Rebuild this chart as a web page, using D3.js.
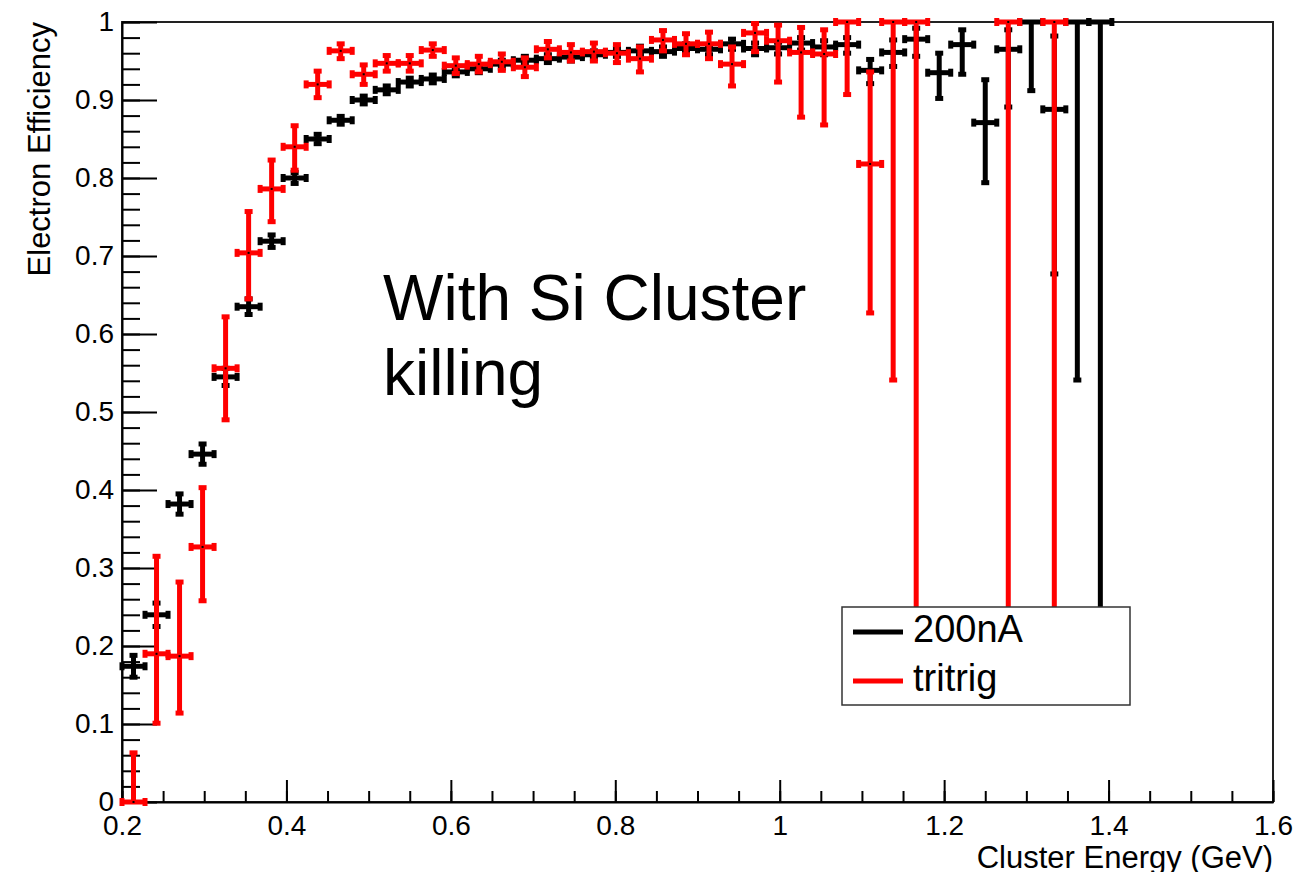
<!DOCTYPE html>
<html>
<head>
<meta charset="utf-8">
<script src="https://cdn.jsdelivr.net/npm/d3@7"></script>
<style>
  html, body { margin: 0; padding: 0; background: #fff; }
  svg { display: block; }
  text { font-family: "Liberation Sans", Arial, Helvetica, sans-serif; fill: #000; }
</style>
</head>
<body>
<svg id="chart" width="1315" height="872"></svg>
<script>
// ---------------- DATA ----------------
const binWidth = 0.028;
const binCenters = [0.214,0.242,0.270,0.298,0.326,0.354,0.382,0.410,0.438,0.466,
                    0.494,0.522,0.550,0.578,0.606,0.634,0.662,0.690,0.718,0.746,
                    0.774,0.802,0.830,0.858,0.886,0.914,0.942,0.970,0.998,1.026,
                    1.054,1.082,1.110,1.138,1.166,1.194,1.222,1.250,1.278,1.306,
                    1.334,1.362,1.390];

// 200nA (black)
const eff200nA = [0.174,0.240,0.382,0.446,0.545,0.635,0.719,0.800,0.850,0.874,
                  0.900,0.913,0.923,0.927,0.936,0.940,0.946,0.951,0.953,0.955,
                  0.958,0.961,0.963,0.962,0.966,0.965,0.972,0.966,0.967,0.973,
                  0.968,0.971,0.938,0.961,0.978,0.935,0.971,0.871,0.965,1.000,
                  0.888,1.000,1.000];
const errLo200nA = [0.014,0.015,0.013,0.013,0.011,0.010,0.008,0.007,0.006,0.005,
                    0.005,0.005,0.005,0.005,0.005,0.005,0.005,0.005,0.005,0.005,
                    0.005,0.005,0.006,0.006,0.006,0.007,0.007,0.008,0.008,0.009,
                    0.010,0.011,0.017,0.018,0.022,0.033,0.038,0.077,0.074,0.088,
                    0.211,0.459,0.840];
const errHi200nA = [0.014,0.015,0.013,0.013,0.011,0.010,0.008,0.007,0.006,0.005,
                    0.005,0.005,0.005,0.005,0.005,0.005,0.005,0.005,0.005,0.005,
                    0.005,0.005,0.006,0.006,0.006,0.006,0.006,0.007,0.007,0.007,
                    0.008,0.009,0.014,0.016,0.014,0.025,0.019,0.055,0.025,0.000,
                    0.094,0.000,0.000];

// tritrig (red)
const effTritrig = [0.000,0.190,0.187,0.327,0.556,0.704,0.786,0.840,0.920,0.963,
                    0.933,0.947,0.947,0.964,0.944,0.946,0.949,0.942,0.965,0.961,
                    0.962,0.960,0.953,0.977,0.972,0.972,0.946,0.986,0.976,0.961,
                    0.959,1.000,0.818,1.000,1.000,null,null,null,1.000,null,
                    1.000,null,null];
const errLoTritrig = [0.000,0.089,0.073,0.069,0.066,0.059,0.042,0.030,0.017,0.010,
                      0.013,0.010,0.010,0.008,0.010,0.010,0.011,0.012,0.011,0.011,
                      0.012,0.012,0.017,0.014,0.014,0.019,0.028,0.024,0.053,0.083,
                      0.091,0.093,0.191,0.459,0.840,null,null,null,0.840,null,
                      0.840,null,null];
const errHiTritrig = [0.063,0.125,0.095,0.076,0.066,0.053,0.037,0.027,0.017,0.009,
                      0.012,0.010,0.010,0.008,0.010,0.010,0.010,0.012,0.010,0.010,
                      0.011,0.011,0.015,0.012,0.013,0.015,0.022,0.012,0.020,0.032,
                      0.031,0.000,0.118,0.000,0.000,null,null,null,0.000,null,
                      0.000,null,null];

const xTicks = [0.2,0.4,0.6,0.8,1.0,1.2,1.4,1.6];
const xTickLabels = ["0.2","0.4","0.6","0.8","1","1.2","1.4","1.6"];
const yTicks = [0,0.1,0.2,0.3,0.4,0.5,0.6,0.7,0.8,0.9,1.0];
const yTickLabels = ["0","0.1","0.2","0.3","0.4","0.5","0.6","0.7","0.8","0.9","1"];

const seriesNames = ["200nA","tritrig"];
const seriesColors = ["#000000","#ff0000"];
const xTitle = "Cluster Energy (GeV)";
const yTitle = "Electron Efficiency";
const noteLines = ["With Si Cluster","killing"];

// ---------------- LAYOUT ----------------
const L = 122, R = 1273, T = 22, B = 802;
const svg = d3.select("#chart");
svg.append("rect").attr("width",1315).attr("height",872).attr("fill","#fff");

const x = d3.scaleLinear().domain([0.2,1.6]).range([L,R]);
const y = d3.scaleLinear().domain([0,1]).range([B,T]);

// frame
svg.append("rect").attr("x",L).attr("y",T).attr("width",R-L).attr("height",B-T)
  .attr("fill","none").attr("stroke","#222").attr("stroke-width",2);

// minor ticks
const yMinor = d3.range(0,1.0001,0.02);
const xMinor = d3.range(0.2,1.6001,0.05);
svg.append("g").attr("transform",`translate(${L},0)`)
  .call(d3.axisLeft(y).tickValues(yMinor).tickSize(-18).tickFormat(""))
  .call(g=>{g.select(".domain").remove(); g.selectAll("line").attr("stroke","#000").attr("stroke-width",2);});
svg.append("g").attr("transform",`translate(0,${B})`)
  .call(d3.axisBottom(x).tickValues(xMinor).tickSize(-11).tickFormat(""))
  .call(g=>{g.select(".domain").remove(); g.selectAll("line").attr("stroke","#000").attr("stroke-width",2);});

// major axes
const yAxis = svg.append("g").attr("transform",`translate(${L},0)`)
  .call(d3.axisLeft(y).tickValues(yTicks).tickSizeInner(-35).tickSizeOuter(0).tickPadding(8)
        .tickFormat((d,i)=>yTickLabels[i]));
yAxis.select(".domain").attr("stroke","#000").attr("stroke-width",2);
yAxis.selectAll("line").attr("stroke","#000").attr("stroke-width",2);
yAxis.selectAll("text").attr("font-size",28).attr("font-family",'"Liberation Sans", Arial, sans-serif').attr("fill","#000");

const xAxis = svg.append("g").attr("transform",`translate(0,${B})`)
  .call(d3.axisBottom(x).tickValues(xTicks).tickSizeInner(-22).tickSizeOuter(0).tickPadding(13)
        .tickFormat((d,i)=>xTickLabels[i]));
xAxis.select(".domain").attr("stroke","#000").attr("stroke-width",2);
xAxis.selectAll("line").attr("stroke","#000").attr("stroke-width",2);
xAxis.selectAll("text").attr("font-size",28).attr("font-family",'"Liberation Sans", Arial, sans-serif').attr("fill","#000");

// axis titles
svg.append("text").attr("x",R).attr("y",868).attr("text-anchor","end")
  .attr("font-size",31).text(xTitle);
svg.append("text").attr("transform",`translate(50,${T}) rotate(-90)`).attr("text-anchor","end")
  .attr("font-size",31).text(yTitle);

// ---------------- DATA MARKS ----------------
const LW = 5, CAP = 4;
function drawSeries(eff, lo, hi, color) {
  const g = svg.append("g").attr("stroke",color).attr("stroke-width",LW).attr("fill","none");
  eff.forEach((v,i)=>{
    if (v === null) return;
    const c = binCenters[i];
    const cx = x(c), xl = x(c - binWidth/2), xr = x(c + binWidth/2), cy = y(v);
    const yl = y(v - lo[i]), yh = y(v + hi[i]);
    g.append("line").attr("x1",xl).attr("x2",xr).attr("y1",cy).attr("y2",cy);
    g.append("line").attr("x1",xl).attr("x2",xl).attr("y1",cy-CAP).attr("y2",cy+CAP);
    g.append("line").attr("x1",xr).attr("x2",xr).attr("y1",cy-CAP).attr("y2",cy+CAP);
    g.append("line").attr("x1",cx).attr("x2",cx).attr("y1",yl).attr("y2",yh);
    if (lo[i] > 0) g.append("line").attr("x1",cx-CAP).attr("x2",cx+CAP).attr("y1",yl).attr("y2",yl);
    if (hi[i] > 0) g.append("line").attr("x1",cx-CAP).attr("x2",cx+CAP).attr("y1",yh).attr("y2",yh);
    svg.append("rect").attr("x",cx-1).attr("y",cy-1).attr("width",2).attr("height",2).attr("fill","#000");
  });
}
drawSeries(eff200nA, errLo200nA, errHi200nA, seriesColors[0]);
drawSeries(effTritrig, errLoTritrig, errHiTritrig, seriesColors[1]);

// annotation
noteLines.forEach((t,i)=>{
  svg.append("text").attr("x",383).attr("y",320 + i*75).attr("font-size",64).text(t);
});

// ---------------- LEGEND ----------------
const lg = svg.append("g");
lg.append("rect").attr("x",842).attr("y",607).attr("width",288).attr("height",98)
  .attr("fill","#fff").attr("stroke","#333").attr("stroke-width",1.5);
seriesNames.forEach((n,i)=>{
  const ly = 632 + i*49;
  lg.append("line").attr("x1",853).attr("x2",903).attr("y1",ly).attr("y2",ly)
    .attr("stroke",seriesColors[i]).attr("stroke-width",5);
  lg.append("text").attr("x",913).attr("y",ly+10).attr("font-size",38).text(n);
});
</script>
</body>
</html>
